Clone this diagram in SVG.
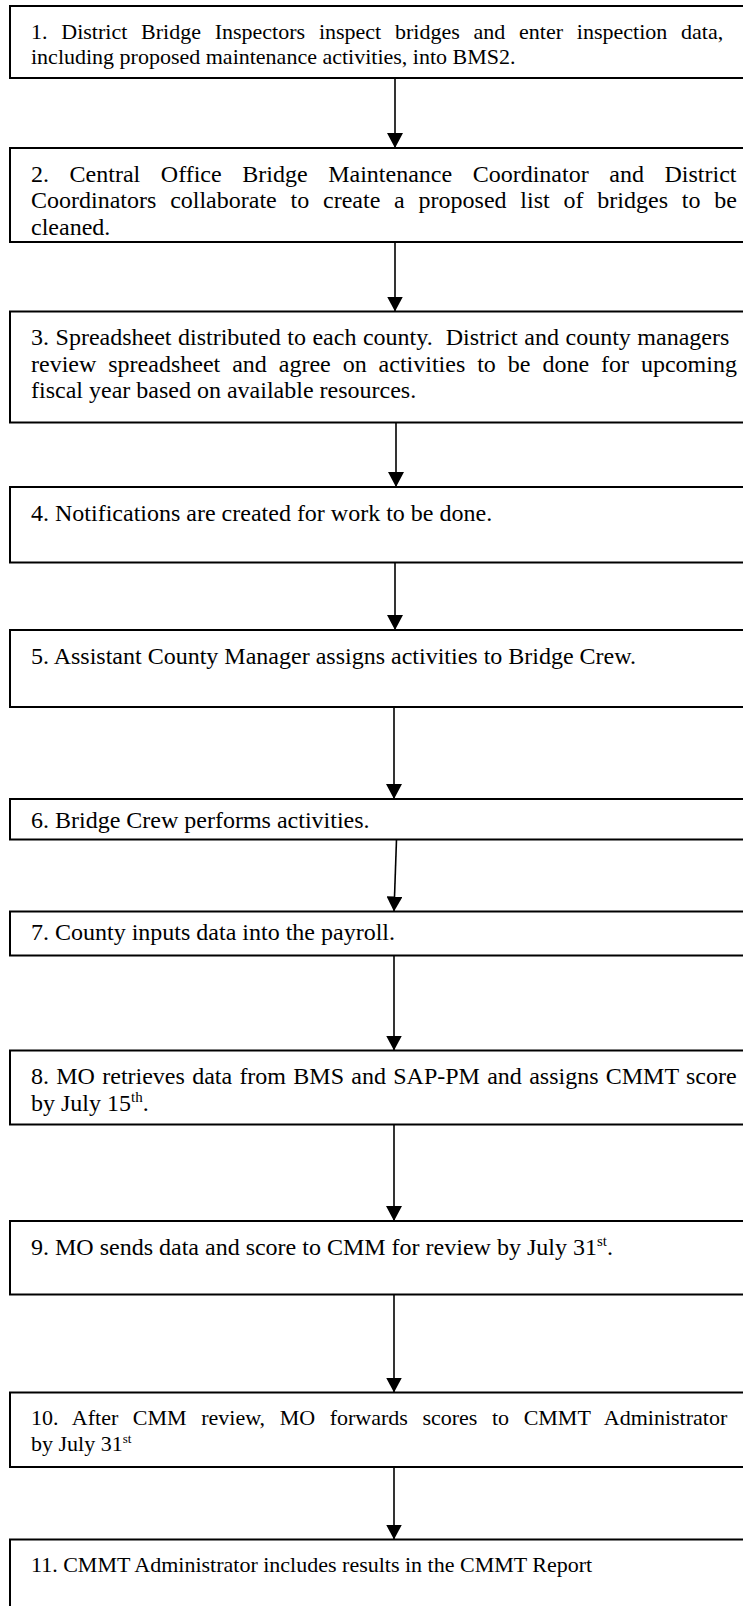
<svg xmlns="http://www.w3.org/2000/svg" width="743" height="1606" viewBox="0 0 743 1606">
<style>
.box{fill:#fff;stroke:#000;stroke-width:2}
.t{font-family:"Liberation Serif","Times New Roman",serif;font-size:24px;fill:#000}
.s{font-size:22px}
.sup{font-size:15px}
.sup2{font-size:13px}
.c{stroke:#000;stroke-width:1.6;fill:none;marker-end:url(#ah)}
</style>
<defs>
<marker id="ah" markerUnits="userSpaceOnUse" markerWidth="16" markerHeight="16" viewBox="0 0 16 16" refX="15" refY="8" orient="auto">
<path d="M0,0 L15,8 L0,16 Z" fill="#000"/>
</marker>
</defs>
<rect width="743" height="1606" fill="#fff"/>
<g id="connectors">
<line class="c" x1="395" y1="78" x2="395" y2="148"/>
<line class="c" x1="395" y1="242" x2="395" y2="311.5"/>
<line class="c" x1="396" y1="422.5" x2="396" y2="487"/>
<line class="c" x1="395" y1="562.5" x2="395" y2="630"/>
<line class="c" x1="394" y1="707" x2="394" y2="799"/>
<line class="c" x1="396.5" y1="839.5" x2="394" y2="911.5"/>
<line class="c" x1="394" y1="955.5" x2="394" y2="1050.5"/>
<line class="c" x1="394" y1="1124.5" x2="394" y2="1221"/>
<line class="c" x1="394" y1="1294.5" x2="394" y2="1392.5"/>
<line class="c" x1="394" y1="1467" x2="394" y2="1539.5"/>
</g>
<g id="n1">
<rect class="box" x="10" y="6" width="760" height="72"/>
<text class="t s" x="31" y="38.5" word-spacing="8.28">1. District Bridge Inspectors inspect bridges and enter inspection data,</text>
<text class="t s" x="31" y="64">including proposed maintenance activities, into BMS2.</text>
</g>
<g id="n2">
<rect class="box" x="10" y="148" width="760" height="94"/>
<text class="t" x="31" y="181.5" word-spacing="14.59">2. Central Office Bridge Maintenance Coordinator and District</text>
<text class="t" x="31" y="208" word-spacing="7.81">Coordinators collaborate to create a proposed list of bridges to be</text>
<text class="t" x="31" y="234.5">cleaned.</text>
</g>
<g id="n3">
<rect class="box" x="10" y="311.5" width="760" height="111"/>
<text class="t" x="31" y="345" word-spacing="0.54" xml:space="preserve">3. Spreadsheet distributed to each county.  District and county managers</text>
<text class="t" x="31" y="371.5" word-spacing="5.95">review spreadsheet and agree on activities to be done for upcoming</text>
<text class="t" x="31" y="398">fiscal year based on available resources.</text>
</g>
<g id="n4">
<rect class="box" x="10" y="487" width="760" height="75.5"/>
<text class="t" x="31" y="520.5">4. Notifications are created for work to be done.</text>
</g>
<g id="n5">
<rect class="box" x="10" y="630" width="760" height="77"/>
<text class="t" x="31" y="663.5">5. Assistant County Manager assigns activities to Bridge Crew.</text>
</g>
<g id="n6">
<rect class="box" x="10" y="799" width="760" height="40.5"/>
<text class="t" x="31" y="827.5">6. Bridge Crew performs activities.</text>
</g>
<g id="n7">
<rect class="box" x="10" y="911.5" width="760" height="44"/>
<text class="t" x="31" y="940">7. County inputs data into the payroll.</text>
</g>
<g id="n8">
<rect class="box" x="10" y="1050.5" width="760" height="74"/>
<text class="t" x="31" y="1084" word-spacing="1.28">8. MO retrieves data from BMS and SAP-PM and assigns CMMT score</text>
<text class="t" x="31" y="1110.5">by July 15<tspan class="sup" dy="-9">th</tspan><tspan dy="9">.</tspan></text>
</g>
<g id="n9">
<rect class="box" x="10" y="1221" width="760" height="73.5"/>
<text class="t" x="31" y="1254.5">9. MO sends data and score to CMM for review by July 31<tspan class="sup" dy="-9">st</tspan><tspan dy="9">.</tspan></text>
</g>
<g id="n10">
<rect class="box" x="10" y="1392.5" width="760" height="74.5"/>
<text class="t s" x="31" y="1425" word-spacing="9.06">10. After CMM review, MO forwards scores to CMMT Administrator</text>
<text class="t s" x="31" y="1450.5">by July 31<tspan class="sup2" dy="-8">st</tspan></text>
</g>
<g id="n11">
<rect class="box" x="10" y="1539.5" width="760" height="100"/>
<text class="t s" x="31" y="1572">11. CMMT Administrator includes results in the CMMT Report</text>
</g>
</svg>
